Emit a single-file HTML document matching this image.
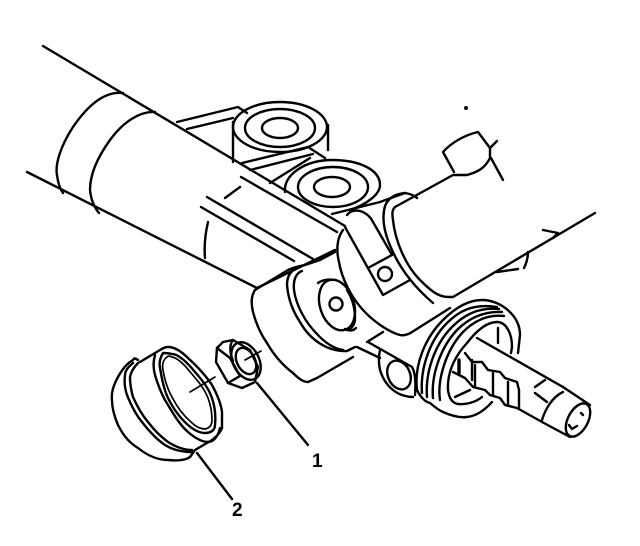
<!DOCTYPE html>
<html><head><meta charset="utf-8"><style>
html,body{margin:0;padding:0;background:#fff}
svg{display:block}
path,ellipse,circle,line{fill:none;stroke:#000;stroke-width:2.4;stroke-linecap:round;stroke-linejoin:round}
.t{stroke-width:1.7}
.h{stroke-width:3.4}
text{font-family:"Liberation Sans",sans-serif;font-weight:bold;font-size:19px;fill:#000}
</style></head><body>
<svg width="640" height="546" viewBox="0 0 640 546" xmlns="http://www.w3.org/2000/svg">
<!-- main housing -->
<path d="M43 46L345 226"/>
<path d="M27 172L257 288"/>
<path d="M241 177L337 232"/>
<path d="M123 93C105 91 88 105 73 127C60 147 55 165 57 175C58 183 60 189 63 193"/>
<path d="M155 112C140 111 123 122 110 140C97 158 90 175 90 190C91 200 94 207 99 213"/>
<path d="M240 187L225 198M208 222C205 235 204 247 205 258"/>
<path d="M207 197L313 259M201 207L294 261"/>
<!-- bracket + cylinder 1 -->
<path d="M177 122L238 107L247 113M187 129L233 118"/>
<path d="M233 122V162M328 125V150"/>
<ellipse cx="280" cy="127" rx="47" ry="25"/>
<ellipse cx="280" cy="128" rx="35" ry="19"/>
<ellipse cx="280" cy="128" rx="18" ry="10"/>
<path d="M242 163L308 147L325 158M250 170L313 154M270 183L310 158"/>
<!-- cylinder 2 -->
<path d="M285 192C283 175 305 160 332 160C360 160 380 170 380 185C380 195 365 205 350 210"/>
<ellipse cx="333" cy="187" rx="35" ry="20"/>
<ellipse cx="332" cy="187" rx="18" ry="10"/>
<!-- clamp -->
<path d="M332 214L380 202L405 193C411 194 415 196 417 198"/>
<path d="M453 175L395 207C392 210 392 214 393 220C395 240 405 265 420 280C430 290 438 297 448 297L453 297L595 213"/>
<path d="M405 193C395 194 388 198 385 206C381 220 385 235 392 250C400 268 412 285 433 303"/>
<path d="M347 215C350 211 355 210 360 211C367 213 371 218 373 222L392 255"/>
<path d="M345 227L383 295L410 280M368 268L392 255"/>
<circle cx="385" cy="274" r="7"/>
<path d="M343 230C337 238 336 250 339 262C342 280 352 298 363 310C372 320 388 332 400 335C405 336 409 334 412 332L450 308" />
<path d="M320 260L335 252M257 288L335 250"/>
<!-- upper small hex -->
<path d="M454 172L443 152C452 142 465 135 478 132L490 148V158C485 168 478 172 467 175L454 175"/>
<path d="M490 148L497 141M491 158L503 180"/>
<circle cx="466" cy="108" r="0.8"/>
<path d="M543 230L558 233M558 233L553 238M497 272L518 269M528 252C528 259 526 264 524 268"/>
<!-- mid block -->
<path d="M255 290C251 296 251 303 253 312C257 327 262 336 267 343C275 357 285 367 293 373C300 380 304 382 308 382L317 378L353 357"/>
<path d="M255 290L288 270C294 267 300 266 305 265L320 260"/>
<path d="M297 268C290 271 287 277 287 285C288 297 292 310 300 322C310 340 328 352 347 351L355 347"/>
<path d="M302 271C296 273 293 280 294 290C296 305 305 322 317 334C325 343 335 349 343 350"/>
<ellipse cx="337" cy="305" rx="17" ry="26" transform="rotate(-18 337 305)"/>
<circle cx="336" cy="304" r="6.5"/>
<path d="M318 283C322 280 328 279 333 280M345 329C349 331 353 331 356 328"/>
<path d="M347 290C352 298 355 307 355 318C355 324 353 328 347 330"/>
<!-- nut -->
<path d="M217 348L223 342L233 340L250 350L258 367L255 382L242 388L228 383L216 362Z"/>
<path d="M217 348L230 358L240 376L228 383M233 340C229 345 230 353 233 361"/>
<ellipse cx="246" cy="361" rx="13" ry="20" transform="rotate(-27 246 361)"/>
<ellipse cx="246" cy="361" rx="9" ry="14" transform="rotate(-27 246 361)"/>
<path class="t" d="M245 360L261 351"/>
<path d="M257 383L308 445"/>
<!-- cap -->
<path d="M138 360C135 358 134 358 133 360C126 364 122 370 118 377C113 386 111 393 112 400C112 410 115 418 118 425C124 437 130 443 138 448C148 456 158 460 168 460C178 461 186 460 190 457L195 450L212 440C217 436 220 433 222 428"/>
<path d="M140 362L160 350C163 348 165 347 168 347C175 347 182 352 188 358C198 367 206 376 212 385C218 396 221 404 222 412L222 428"/>
<path d="M155 355C153 362 153 368 155 375C158 385 162 396 168 405C174 415 180 425 188 432C195 438 202 442 208 442C214 442 218 436 220 428"/>
<path d="M163 353C160 358 159 363 160 368C162 380 164 390 168 398C173 408 180 418 188 425C195 431 200 433 205 433C211 433 215 430 215 425C216 415 215 407 212 398C208 387 202 380 195 372C187 362 178 354 172 354C168 353 165 353 163 353Z"/>
<path class="t" d="M167 357C163 360 162 365 163 370C165 382 168 390 172 397C177 407 184 416 191 422C196 427 201 429 205 429C210 428 212 425 212 420C212 412 211 406 208 398C204 388 198 381 191 373C184 364 177 358 172 357C170 356 168 356 167 357Z"/>
<path d="M133 363C128 367 125 371 125 375C124 382 125 389 127 395C131 405 136 415 142 422C149 431 156 439 165 445C173 450 183 452 192 452"/>
<path d="M138 363C134 367 131 372 130 377C130 384 131 390 133 397C137 406 142 415 148 422C154 430 160 436 168 442C176 447 184 450 192 450"/>
<path class="t" d="M190 392L215 377"/>
<path d="M197 453L232 499"/>
<!-- lug -->
<path d="M367 342L383 332"/>
<path d="M357 347L380 358M368 342L412 367"/>
<path d="M380 350C378 358 379 365 380 370C383 380 388 386 393 390C399 395 407 397 413 397"/>
<path d="M412 367C415 372 416 382 415 395"/>
<ellipse cx="399" cy="375" rx="11" ry="15" transform="rotate(-25 399 375)"/>
<!-- threaded flange -->
<path d="M417 390C414 365 425 338 443 320C455 308 468 300 482 300C500 300 520 315 520 335L518 353"/>
<path d="M422 393C420 368 430 340 447 323C458 312 472 303 497 307"/>
<path d="M427 397C425 372 435 344 452 327C463 316 477 307 499 309"/>
<path d="M433 398C431 376 440 348 457 330C468 319 482 311 502 312"/>
<path d="M440 400C437 380 446 350 463 332C473 322 486 314 504 316"/>
<path d="M417 390C421 398 426 402 430 403C436 408 440 411 443 412C452 416 460 418 467 417C476 416 484 411 492 402"/>
<path d="M448 390C447 370 456 355 467 343C477 330 487 322 497 322C506 322 512 333 512 347L511 353"/>
<path d="M448 390C449 398 452 403 458 404C466 405 476 402 482 397"/>
<path d="M498 328V343"/>
<path d="M455 397L470 390"/>
<!-- shaft -->
<path d="M477 338L563 387L590 405"/>
<path d="M453 372L465 378L473 387L485 390L490 395L500 398L505 405L517 408L542 422L570 437"/>
<path d="M465 353L472 362L482 362L488 370L500 372L505 378L517 382L519 390V408"/>
<path class="h" d="M459 360V373"/>
<path d="M472 360V380M475 365V387M493 373V395M508 382V405"/>
<path d="M535 387L545 380M535 393L547 402"/>
<path d="M563 392C552 397 545 410 542 420"/>
<ellipse cx="578" cy="420" rx="10" ry="18" transform="rotate(28 578 420)"/>
<path d="M569 425L572 429L577 426M581 413L583 415"/>
<text x="312" y="467">1</text>
<text x="232" y="516">2</text>
</svg>
</body></html>
